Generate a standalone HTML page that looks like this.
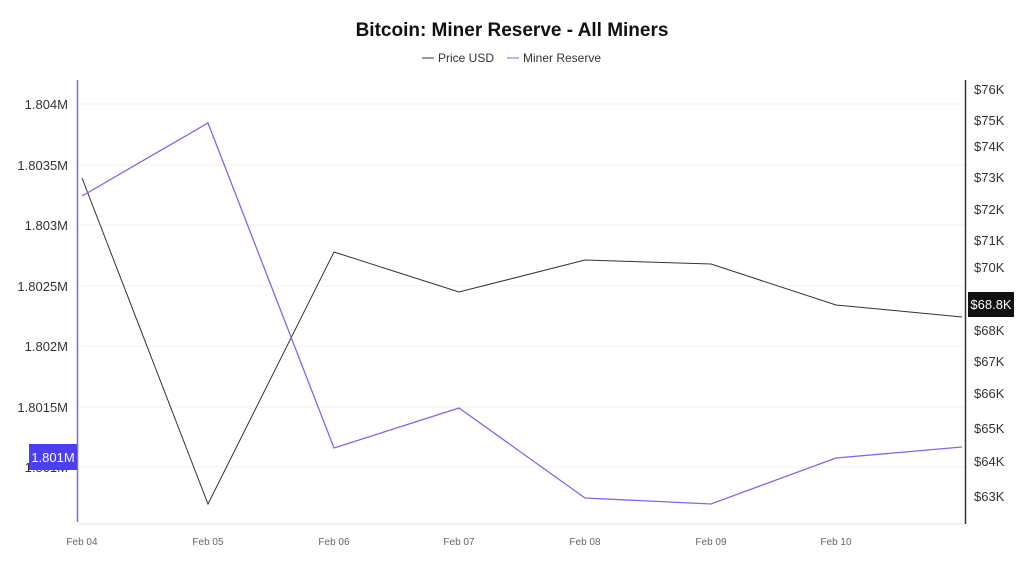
<!DOCTYPE html>
<html><head><style>
body{margin:0;background:#fff;}
svg{display:block;font-family:"Liberation Sans",sans-serif;}
</style></head><body>
<svg width="1024" height="576" viewBox="0 0 1024 576">
<rect width="1024" height="576" fill="#fff"/>
<text x="512" y="36" text-anchor="middle" font-size="19" font-weight="bold" fill="#111">Bitcoin: Miner Reserve - All Miners</text>
<line x1="422" y1="58" x2="434" y2="58" stroke="#333" stroke-width="1"/>
<text x="438" y="62" font-size="12" fill="#333">Price USD</text>
<line x1="507" y1="58" x2="519" y2="58" stroke="#7b68ee" stroke-width="1"/>
<text x="523" y="62" font-size="12" fill="#333">Miner Reserve</text>
<g stroke="#f2f2f2" stroke-width="1">
<line x1="78" y1="104" x2="964" y2="104"/><line x1="78" y1="165" x2="964" y2="165"/>
<line x1="78" y1="225" x2="964" y2="225"/><line x1="78" y1="286" x2="964" y2="286"/>
<line x1="78" y1="346" x2="964" y2="346"/><line x1="78" y1="407" x2="964" y2="407"/>
<line x1="78" y1="467" x2="964" y2="467"/>
</g>
<line x1="78" y1="524" x2="964" y2="524" stroke="#e0e0e0"/>
<line x1="77.5" y1="80" x2="77.5" y2="522" stroke="#7b68ee" stroke-width="1.5"/>
<line x1="965.5" y1="80" x2="965.5" y2="524" stroke="#333" stroke-width="1.5"/>
<g font-size="13" fill="#333" text-anchor="end">
<text x="68" y="109">1.804M</text><text x="68" y="170">1.8035M</text>
<text x="68" y="230">1.803M</text><text x="68" y="291">1.8025M</text>
<text x="68" y="351">1.802M</text><text x="68" y="412">1.8015M</text>
<text x="68" y="472">1.801M</text>
</g>
<rect x="29" y="444" width="48" height="26" fill="#4b3ff0"/>
<text x="53" y="462" font-size="13" fill="#fff" text-anchor="middle">1.801M</text>
<g font-size="13" fill="#333">
<text x="974" y="94">$76K</text><text x="974" y="125">$75K</text><text x="974" y="151">$74K</text>
<text x="974" y="182">$73K</text><text x="974" y="214">$72K</text><text x="974" y="245">$71K</text>
<text x="974" y="272">$70K</text><text x="974" y="335">$68K</text><text x="974" y="366">$67K</text>
<text x="974" y="398">$66K</text><text x="974" y="433">$65K</text><text x="974" y="466">$64K</text>
<text x="974" y="501">$63K</text>
</g>
<rect x="968" y="292" width="46" height="25" fill="#111"/>
<text x="991" y="309" font-size="13" fill="#fff" text-anchor="middle">$68.8K</text>
<g font-size="10" fill="#666" text-anchor="middle">
<text x="82" y="545">Feb 04</text><text x="208" y="545">Feb 05</text><text x="334" y="545">Feb 06</text>
<text x="459" y="545">Feb 07</text><text x="585" y="545">Feb 08</text><text x="711" y="545">Feb 09</text>
<text x="836" y="545">Feb 10</text>
</g>
<polyline fill="none" stroke="#333" stroke-width="1" points="82,178 208,504 334,252 459,292 585,260 711,264 836,305 962,317"/>
<polyline fill="none" stroke="#7b68ee" stroke-width="1.3" points="82,196 208,123 334,448 459,408 585,498 711,504 836,458 962,447"/>
</svg>
</body></html>
